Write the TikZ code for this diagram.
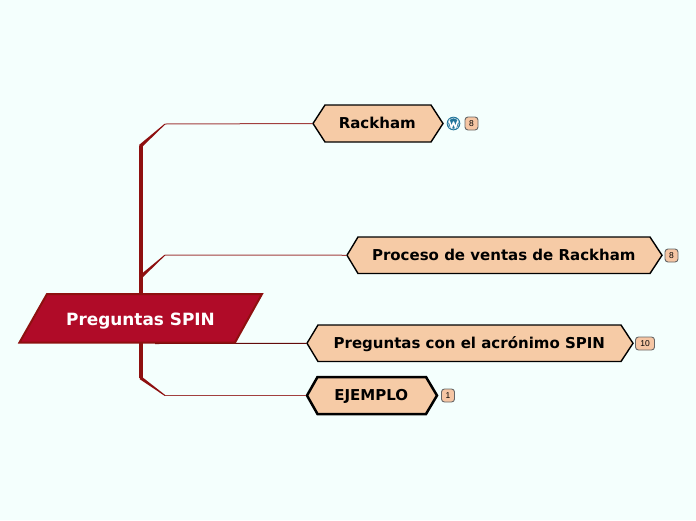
\documentclass[tikz,border=0pt]{standalone}
\usepackage{fontspec}
\setmainfont{DejaVu Sans}
\newfontfamily\badgefont{Liberation Sans}
\definecolor{bgc}{HTML}{F4FFFD}
\definecolor{trunk}{HTML}{8E1010}
\definecolor{crim}{HTML}{B00B28}
\definecolor{peach}{HTML}{F6CBA6}
\definecolor{badge}{HTML}{F6C6A4}
\definecolor{wpblue}{HTML}{21759B}
\tikzset{
  topicshape/.style={draw=black,fill=peach,line width=1.4pt,line join=miter},
  topictext/.style={inner sep=0pt,outer sep=0pt,text height=10.8pt,text depth=0pt,xshift=-0.7pt,font=\fontsize{15}{15}\selectfont\bfseries,text=black},
  central/.style={inner sep=0pt,outer sep=0pt,text height=12pt,text depth=0pt,font=\fontsize{16.9}{16.9}\selectfont\bfseries,text=white},
  centralshape/.style={draw=trunk,fill=crim,line width=2pt},
  cnt/.style={draw=black!60,fill=badge,rounded corners=3pt,line width=.9pt,minimum height=13pt,inner sep=0pt,
    font=\badgefont\fontsize{8.5}{8.5}\selectfont,text=black},
  trunkline/.style={draw=trunk,line width=4pt},
  twig/.style={draw=trunk!80!bgc,line width=1pt},
  taper/.style={fill=trunk,draw=none}
}
% name, left tip, left corner, right corner, right tip, top, bottom, extra style, text
\newcommand{\hexa}[9]{%
  \path[topicshape,#8] (#2,{(#6+#7)/2}) -- (#3,#6) -- (#4,#6) -- (#5,{(#6+#7)/2}) -- (#4,#7) -- (#3,#7) -- cycle;
  \node[topictext,minimum width={(#5-#2)*1pt},minimum height={(#7-#6)*1pt}] (#1) at ({(#2+#5)/2},{(#6+#7)/2}) {#9};}
\begin{document}
\begin{tikzpicture}[x=1pt,y=-1pt]
\path[use as bounding box,fill=bgc] (0,0) rectangle (696,520);
% nodes
\hexa{rack}{313}{325}{431}{443}{105}{142}{}{Rackham}
\hexa{proc}{347}{358}{650}{662}{237}{273.5}{}{Proceso de ventas de Rackham}
\hexa{preg}{307}{318}{621}{633}{325}{361.5}{}{Preguntas con el acrónimo SPIN}
\hexa{ej}{307}{317.5}{426}{437}{377}{414}{line width=2.5pt}{EJEMPLO}
\coordinate (j0) at (140.5,146);
\coordinate (e0) at (165,124);
\coordinate (j1) at (140.5,277);
\coordinate (e1) at (165,255);
\coordinate (j3) at (140.5,378);
\coordinate (e3) at (165,395.5);
\coordinate (s2) at (155,343.5);
\coordinate (r0) at (140.5,318.5);
% connectors
\draw[twig] (e0) -- (rack.west);
\draw[twig] (e1) -- (proc.west);
\draw[twig,draw=trunk!70!black] (s2) -- (preg.west);
\draw[twig,line width=1.2pt] (e3) -- (ej.west);
\draw[trunkline] (r0) -- (j0);
\draw[trunkline] (r0) -- (j3);
\fill[taper] (139,145) -- (141.5,147.5) -- (165.3,124.3) -- (164.7,123.7) -- cycle;
\fill[taper] (139,276) -- (141.5,278.5) -- (165.3,255.3) -- (164.7,254.7) -- cycle;
\fill[taper] (141.5,376.5) -- (139.5,379) -- (164.7,395.9) -- (165.3,395.1) -- cycle;
\path[centralshape] (47,294) -- (262,294) -- (235,342.5) -- (19.5,342.5) -- cycle;
\node[central] (root) at (140.5,319) {Preguntas SPIN};
% badges
\node[cnt,minimum width=13pt] (b0) at (471.5,123.5) {8};
\node[cnt,minimum width=13pt] (b1) at (671.5,255.5) {8};
\node[cnt,minimum width=19pt] (b2) at (645,343.5) {10};
\node[cnt,minimum width=13pt] (b3) at (448,395.5) {1};
% wordpress icon
\fill[wpblue] (453.5,123.5) circle (6.8);
\draw[white,line width=.4pt] (453.5,123.5) circle (5.6);
\draw[white,line width=1.5pt,line join=round] (449.2,120.5) -- (451.5,127.8) -- (453.5,122) -- (455.5,127.8) -- (457.8,120.5);
\end{tikzpicture}
\end{document}
